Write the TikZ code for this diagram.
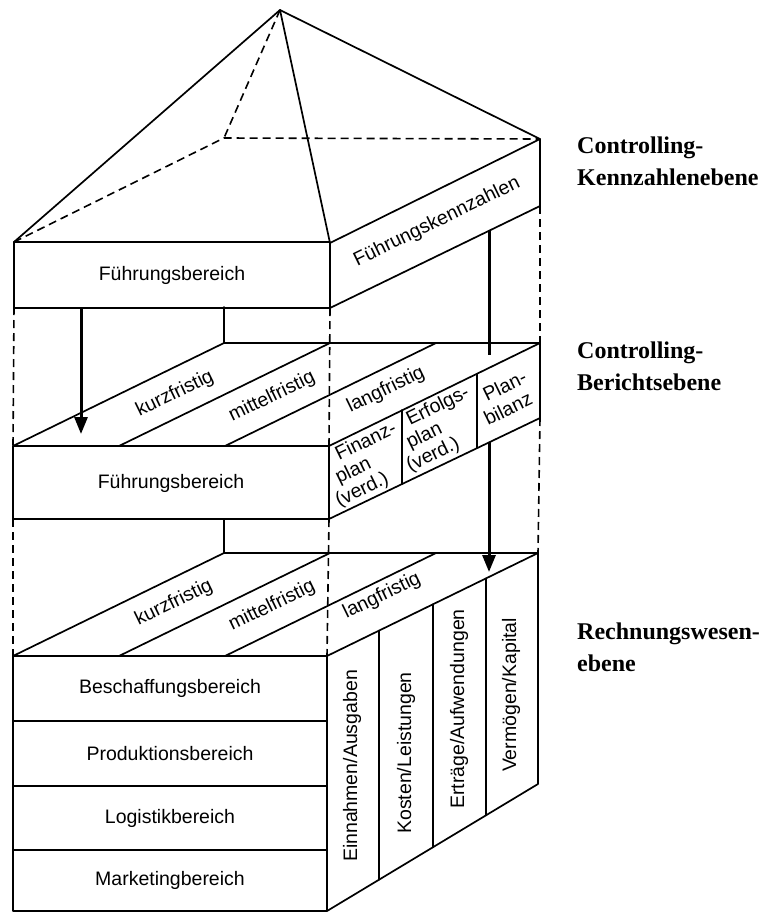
\documentclass[tikz,border=0pt]{standalone}
\usepackage{fontspec}
\setmainfont{Liberation Serif}
\setsansfont{Liberation Sans}
\usetikzlibrary{arrows.meta}

\begin{document}
\begin{tikzpicture}[x=1pt,y=-1pt,
  edge/.style={line width=1.7pt, line join=round, line cap=round},
  hidden/.style={line width=1.6pt, dash pattern=on 8pt off 5pt},
  flow/.style={line width=3pt, -{Triangle[length=17pt,width=13pt]}},
  plainflow/.style={line width=3pt},
  lbl/.style={font=\sffamily\fontsize{19.5}{21}\selectfont, inner sep=0pt},
  flat/.style={lbl, rotate=26},
  slanted/.style={lbl, rotate=26, anchor=base west},
  upright/.style={lbl, rotate=90},
  level/.style={font=\rmfamily\bfseries\fontsize{24}{32}\selectfont, align=left, anchor=base west, inner sep=0pt}]

\useasboundingbox (0,0) rectangle (764,913);

% ---------- corner points ----------
% pyramid and top block
\coordinate (apex) at (280,10);
\coordinate (kFL) at (14,242);  \coordinate (kFR) at (330,243);
\coordinate (kBL) at (14,307);  \coordinate (kBR) at (330,308);
\coordinate (kBack) at (540,139); \coordinate (kBackB) at (540,206);
\coordinate (kHid) at (224,138);
% middle block
\coordinate (mFL) at (13,446);  \coordinate (mFR) at (329,446);
\coordinate (mBL) at (13,519);  \coordinate (mBR) at (329,519);
\coordinate (mTL) at (224,343); \coordinate (mTR) at (540,343);
\coordinate (mRB) at (540,418);
% lower block
\coordinate (uFL) at (13,656);  \coordinate (uFR) at (327,656);
\coordinate (uBL) at (13,911);  \coordinate (uBR) at (327,911);
\coordinate (uTL) at (224,553); \coordinate (uTR) at (538,553);
\coordinate (uRB) at (538,784);

% ---------- pyramid ----------
\draw[edge] (kFL) -- (apex) -- (kFR);
\draw[edge] (apex) -- (kBack);
\draw[hidden] (apex) -- (kHid);
\draw[hidden] (kFL) -- (kHid) -- (kBack);

% ---------- top block ----------
\draw[edge] (kFL) rectangle (kBR);
\draw[edge] (kFR) -- (kBack) -- (kBackB) -- (kBR);

% ---------- hidden edges between the levels ----------
\draw[hidden] (kBL) -- (mFL);
\draw[hidden] (kBR) -- (mFR);
\draw[hidden] (kBackB) -- (mTR);
\draw[hidden] (mBL) -- (uFL);
\draw[hidden] (mBR) -- (uFR);
\draw[hidden] (mRB) -- (uTR);
\draw[edge] (224,307) -- (mTL);
\draw[edge] (224,519) -- (uTL);

% ---------- middle block ----------
\draw[edge] (mFL) rectangle (mBR);
\draw[edge] (mFL) -- (mTL) -- (mTR) -- (mFR);
\draw[edge] (mTR) -- (mRB) -- (mBR);
\draw[edge] (119,446) -- (330,343);
\draw[edge] (225,446) -- (436,343);
\draw[edge] (402,410) -- (402,484);
\draw[edge] (477,374) -- (477,448);

% ---------- lower block ----------
\draw[edge] (uFL) rectangle (uBR);
\draw[edge] (13,721) -- (327,721);
\draw[edge] (13,786) -- (327,786);
\draw[edge] (13,850) -- (327,850);
\draw[edge] (uFL) -- (uTL) -- (uTR) -- (uFR);
\draw[edge] (uTR) -- (uRB) -- (uBR);
\draw[edge] (119,656) -- (330,553);
\draw[edge] (225,656) -- (436,553);
\draw[edge] (379,630.6) -- (379,879.7);
\draw[edge] (433,604.3) -- (433,847.2);
\draw[edge] (486,578.4) -- (486,815.3);

% ---------- flow arrows ----------
\coordinate (fa1) at (81,307);  \coordinate (fa2) at (81,434);
\coordinate (fb1) at (489,230); \coordinate (fb2) at (489,355);
\coordinate (fc1) at (489,442); \coordinate (fc2) at (489,572);
\draw[flow] (fa1) -- (fa2);
\draw[plainflow] (fb1) -- (fb2);
\draw[flow] (fc1) -- (fc2);

% ---------- labels: top block ----------
\node[lbl] (t1) at (172,275) {Führungsbereich};
\node[flat] (t2) at (437,222) {Führungskennzahlen};

% ---------- labels: middle block ----------
\node[flat] (m1) at (175,394) {kurzfristig};
\node[flat] (m2) at (272,397) {mittelfristig};
\node[flat] (m3) at (386,390) {langfristig};
\node[lbl]  (m4) at (171,483) {Führungsbereich};
% plan columns: each line on its own slanted baseline, lines stacked vertically
\node[slanted] (f1) at (339,461) {Finanz-};
\node[slanted] (f2) at (339,484) {plan};
\node[slanted] (f3) at (339,507) {(verd.)};
\node[slanted] (g1) at (410,426) {Erfolgs-};
\node[slanted] (g2) at (410,449) {plan};
\node[slanted] (g3) at (410,472) {(verd.)};
\node[slanted] (h1) at (487,402) {Plan-};
\node[slanted] (h2) at (488,426) {bilanz};

% ---------- labels: lower block ----------
\node[flat] (u1) at (174,603) {kurzfristig};
\node[flat] (u2) at (272,606) {mittelfristig};
\node[flat] (u3) at (382,596) {langfristig};
\node[lbl] (u4) at (170,688.5) {Beschaffungsbereich};
\node[lbl] (u5) at (170,753.5) {Produktionsbereich};
\node[lbl] (u6) at (170,818) {Logistikbereich};
\node[lbl] (u7) at (170,880.5) {Marketingbereich};
\node[upright] (u8) at (352,766) {Einnahmen/Ausgaben};
\node[upright] (u9) at (406,753) {Kosten/Leistungen};
\node[upright] (u10) at (459,709) {Erträge/Aufwendungen};
\node[upright] (u11) at (511,695) {Vermögen/Kapital};

% ---------- level names ----------
\node[level] (e1) at (577,185) {Controlling-\\Kennzahlenebene};
\node[level] (e2) at (577,390) {Controlling-\\Berichtsebene};
\node[level] (e3) at (577,671) {Rechnungswesen-\\ebene};

\end{tikzpicture}
\end{document}
